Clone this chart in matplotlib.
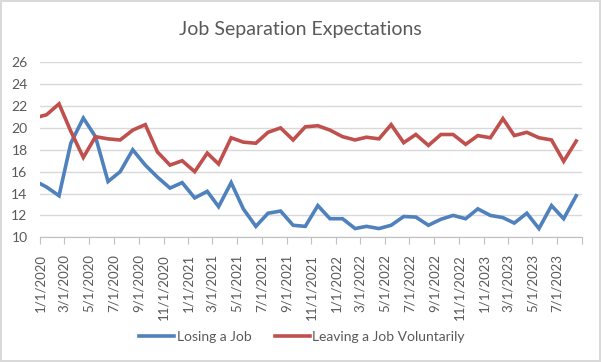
import pandas as pd
import matplotlib
matplotlib.use("Agg")
from matplotlib import pyplot as plt
import matplotlib.dates as mdates

# monthly survey readings, Dec 2019 - Aug 2023 (Dec 2019 falls left of the axis)
dates = pd.date_range("2019-12-01", "2023-08-01", freq="MS") + pd.Timedelta(days=16)

losing = [15.2, 14.6, 13.8, 18.6, 20.9, 19.2, 15.1, 16.0, 18.0, 16.6,
          15.5, 14.5, 15.0, 13.6, 14.2, 12.8, 15.0, 12.6, 11.0, 12.2,
          12.4, 11.1, 11.0, 12.9, 11.7, 11.7, 10.8, 11.0, 10.8, 11.1,
          11.9, 11.85, 11.1, 11.65, 12.0, 11.7, 12.6, 12.0, 11.8, 11.3,
          12.2, 10.8, 12.9, 11.7, 13.8]
leaving = [20.9, 21.2, 22.2, 19.7, 17.3, 19.2, 19.0, 18.9, 19.8, 20.3,
           17.8, 16.6, 17.0, 16.0, 17.7, 16.7, 19.1, 18.7, 18.6, 19.6,
           20.0, 18.9, 20.1, 20.2, 19.8, 19.2, 18.9, 19.15, 19.0, 20.3,
           18.65, 19.4, 18.4, 19.4, 19.4, 18.5, 19.3, 19.1, 20.85, 19.3,
           19.6, 19.1, 18.9, 16.95, 18.8]

series_names = ["Losing a Job", "Leaving a Job Voluntarily"]
colors = ["#4F81BD", "#C0504D"]
x_start = pd.Timestamp("2020-01-01")
x_end = pd.Timestamp("2023-09-01")
yticks = [10, 12, 14, 16, 18, 20, 22, 24, 26]

plt.rcParams["font.family"] = ["Lato", "DejaVu Sans"]
gray = "#595959"

fig = plt.figure(figsize=(6.01, 3.62), dpi=100)
fig.patch.set_edgecolor("#D9D9D9")
fig.patch.set_linewidth(1.5)
ax = fig.add_axes([40 / 601, 1 - 237.3 / 362, 542.3 / 601, 175 / 362])

ax.plot(dates, losing, color=colors[0], lw=2.6, label=series_names[0],
        solid_joinstyle="miter")
ax.plot(dates, leaving, color=colors[1], lw=2.6, label=series_names[1],
        solid_joinstyle="miter")

ax.set_xlim(x_start, x_end)
ax.set_ylim(10, 26)
ax.set_yticks(yticks)
ax.grid(axis="y", color="#D9D9D9", lw=1)
ax.set_axisbelow(True)
for s in ["top", "right", "left"]:
    ax.spines[s].set_visible(False)
ax.spines["bottom"].set_color("#BFBFBF")
ax.spines["bottom"].set_zorder(0.5)

ax.xaxis.set_major_locator(mdates.MonthLocator(bymonth=[1, 3, 5, 7, 9, 11]))
ax.xaxis.set_major_formatter(plt.FuncFormatter(
    lambda v, p: "" if mdates.num2date(v).replace(tzinfo=None) >= x_end
    else "{0.month}/{0.day}/{0.year}".format(mdates.num2date(v))))
ax.tick_params(axis="x", rotation=90, colors="#BFBFBF", labelcolor=gray,
               labelsize=9.5, length=5, direction="out", pad=7)
ax.tick_params(axis="y", length=0, labelcolor=gray, labelsize=10, pad=9)

fig.text(0.5, 1 - 29 / 362, "Job Separation Expectations", ha="center",
         va="center", fontsize=14, color=gray)
fig.legend(loc="center", bbox_to_anchor=(302 / 601, 1 - 337 / 362), ncol=2,
           frameon=False, fontsize=10, handlelength=2.5, columnspacing=1.7,
           handletextpad=0.2, labelcolor=gray)

plt.savefig("out.png", dpi=100)
